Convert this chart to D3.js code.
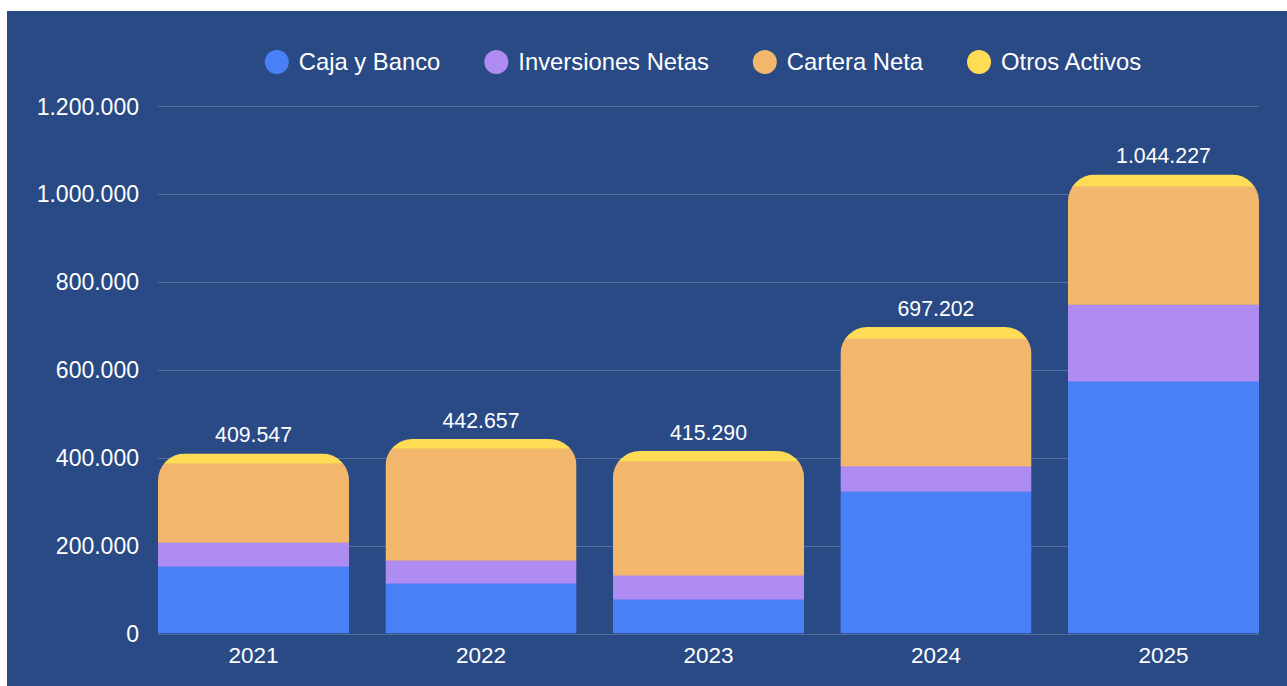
<!DOCTYPE html>
<html><head><meta charset="utf-8">
<script src="https://cdn.jsdelivr.net/npm/d3@7"></script>
<style>html,body{margin:0;padding:0;background:#fff;overflow:hidden}</style>
</head><body>
<svg id="c" width="1287" height="686"></svg>
<script>
const years = ["2021","2022","2023","2024","2025"];
const seriesNames = ["Caja y Banco","Inversiones Netas","Cartera Neta","Otros Activos"];
const cajaBanco   = [153400, 114800,  78400, 323900, 574500];
const inversiones = [ 54500,  52200,  54600,  57500, 174400];
const cartera     = [179650, 254600, 259000, 290900, 268800];
const otros       = [ 21997,  21057,  23290,  24902,  26527];
const totals      = [409547, 442657, 415290, 697202, 1044227];
const yTicks      = [0, 200000, 400000, 600000, 800000, 1000000, 1200000];
const colors      = ["#4a80f6", "#ae8cf2", "#f2b76c", "#fedc56"];

const W = 1287, H = 686;
const svg = d3.select("#c");
const font = "'Liberation Sans', Arial, Helvetica, sans-serif";
svg.append("rect").attr("x", 7).attr("y", 11).attr("width", W - 7).attr("height", H - 11).attr("fill", "#294a85");

const x = d3.scaleBand().domain(years).range([158, 1259]).paddingInner(0.16).paddingOuter(0);
const y = d3.scaleLinear().domain([0, 1200000]).range([633.5, 106]);
const fmt = v => d3.format(",")(v).replace(/,/g, ".");

// grid
svg.append("g").selectAll("line").data(yTicks).join("line")
  .attr("x1", 158).attr("x2", 1259)
  .attr("y1", d => Math.round(y(d)) + 0.5).attr("y2", d => Math.round(y(d)) + 0.5)
  .attr("stroke", "rgba(255,255,255,0.2)").attr("stroke-width", 1);

// y tick labels
svg.append("g").selectAll("text").data(yTicks).join("text")
  .attr("x", 139).attr("y", d => y(d) + 8.5)
  .attr("text-anchor", "end").attr("fill", "#fff")
  .attr("font-family", font).attr("font-size", 23)
  .text(d => fmt(d));

// stacked data
const rows = years.map((yr, i) => ({year: yr, "Caja y Banco": cajaBanco[i], "Inversiones Netas": inversiones[i], "Cartera Neta": cartera[i], "Otros Activos": otros[i], total: totals[i]}));
const stack = d3.stack().keys(seriesNames)(rows);

const r = 27;
const defs = svg.append("defs");
rows.forEach((d, i) => {
  const x0 = x(d.year), bw = x.bandwidth();
  const top = y(d3.sum(seriesNames, k => d[k])), bot = y(0);
  defs.append("clipPath").attr("id", "clip" + i).append("path")
    .attr("d", `M${x0},${bot} L${x0},${top + r} A${r},${r} 0 0 1 ${x0 + r},${top} L${x0 + bw - r},${top} A${r},${r} 0 0 1 ${x0 + bw},${top + r} L${x0 + bw},${bot} Z`);
});

const barsG = svg.append("g");
rows.forEach((d, i) => {
  const g = barsG.append("g").attr("clip-path", `url(#clip${i})`);
  stack.forEach((s, si) => {
    const seg = s[i];
    g.append("rect")
      .attr("x", x(d.year)).attr("width", x.bandwidth())
      .attr("y", y(seg[1])).attr("height", y(seg[0]) - y(seg[1]) + (si === 0 ? 0 : 0.5))
      .attr("fill", colors[si]);
  });
});

// total labels
svg.append("g").selectAll("text").data(rows).join("text")
  .attr("x", d => x(d.year) + x.bandwidth() / 2)
  .attr("y", d => y(d3.sum(seriesNames, k => d[k])) - 11)
  .attr("text-anchor", "middle").attr("fill", "#fff")
  .attr("font-family", font).attr("font-size", 21.3)
  .text(d => fmt(d.total));

// x labels
svg.append("g").selectAll("text").data(years).join("text")
  .attr("x", d => x(d) + x.bandwidth() / 2).attr("y", 663)
  .attr("text-anchor", "middle").attr("fill", "#fff")
  .attr("font-family", font).attr("font-size", 22.5)
  .text(d => d);

// legend
const leg = svg.append("g");
let cx = 0;
seriesNames.forEach((n, i) => {
  const gi = leg.append("g");
  gi.append("circle").attr("cx", cx + 12).attr("cy", 62).attr("r", 12).attr("fill", colors[i]);
  const t = gi.append("text").attr("x", cx + 34).attr("y", 70)
    .attr("fill", "#fff").attr("font-family", font).attr("font-size", 23.8).text(n);
  const w = t.node().getComputedTextLength();
  cx = cx + 34 + w + 44;
});
const totalW = cx - 44;
leg.attr("transform", `translate(${703 - totalW / 2},0)`);
</script>
</body></html>
